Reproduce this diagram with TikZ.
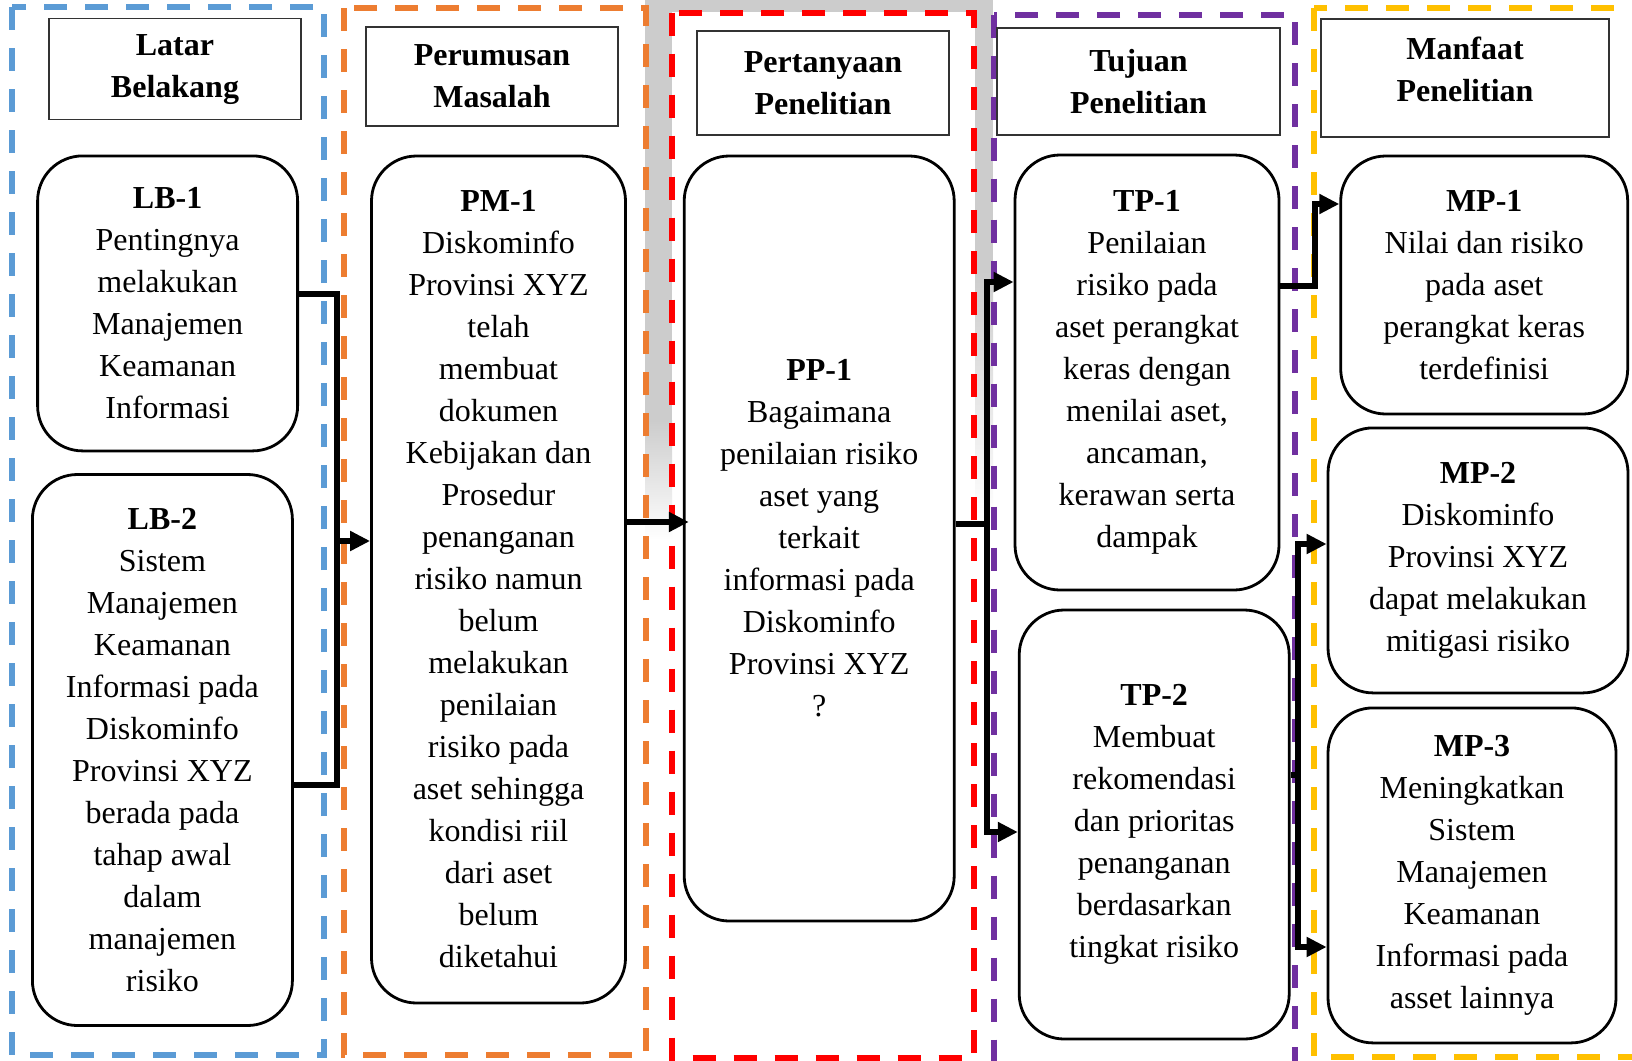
\documentclass[tikz,border=0pt]{standalone}
\usepackage{fontspec}
\setmainfont{Liberation Serif}
\usetikzlibrary{arrows.meta}
\definecolor{cblue}{HTML}{5B9BD5}
\definecolor{corange}{HTML}{ED7D31}
\definecolor{cred}{HTML}{FF0000}
\definecolor{cpurple}{HTML}{7030A0}
\definecolor{cyellow}{HTML}{FFC000}
\begin{document}
\begin{tikzpicture}[x=1pt,y=-1pt,
  frame/.style={line width=6pt, dash pattern=on 23pt off 18pt},
  hdr/.style={draw=black!80, line width=1.5pt, fill=white, font=\fontsize{32}{42}\selectfont\bfseries, align=center, inner sep=0pt},
  hdrtext/.style={font=\fontsize{32}{42}\selectfont\bfseries, align=center, inner sep=0pt},
  card/.style={draw=black, line width=2.8pt, rounded corners=45pt, fill=white, font=\fontsize{32}{42}\selectfont, align=center, inner sep=0pt},
  conn/.style={line width=6pt},
  arr/.style={line width=6pt, -{Triangle[length=20pt,width=19pt]}},
]
\useasboundingbox (0,0) rectangle (1632,1060);
\begin{scope}
\clip (0,0) rectangle (1632,1060);
\fill[white] (0,0) rectangle (1632,1060);
% watermark remnants
\fill[gray!40] (645,0) rectangle (993,12);
\fill[gray!40] (645,0) rectangle (672,420);
\shade[top color=gray!40, bottom color=white] (645,420) rectangle (672,540);
\fill[gray!40] (975,0) rectangle (993,270);
\shade[top color=gray!40, bottom color=white] (975,270) rectangle (993,520);
% dashed frames
\draw[frame, cblue] (12,7) rectangle (324,1055);
\draw[frame, corange] (344,8) rectangle (646,1055);
\draw[frame, cred] (672,12.5) rectangle (974,1058);
\draw[frame, cpurple] (994,14.5) rectangle (1295,1068);
\draw[frame, cyellow] (1314,8) rectangle (1645,1057);
% headers
\node[hdr, minimum width=252pt, minimum height=101pt] (hLB) at (175,69.2) {Latar\\Belakang};
\node[hdr, minimum width=252pt, minimum height=99pt] (hPM) at (492,76.5) {Perumusan\\Masalah};
\node[hdr, minimum width=252pt, minimum height=104pt] (hPP) at (823,83) {Pertanyaan\\Penelitian};
\node[hdr, minimum width=283pt, minimum height=107pt] (hTP) at (1138.5,81.5) {Tujuan\\Penelitian};
\node[hdr, minimum width=288pt, minimum height=118pt] (hMP) at (1465,77.9) {};
\node[hdrtext] (tMP) at (1465,69) {Manfaat\\Penelitian};
% cards
\node[card, minimum width=260pt, minimum height=295pt] (LB1) at (167.6,303.4)
  {\textbf{LB-1}\\Pentingnya\\melakukan\\Manajemen\\Keamanan\\Informasi};
\node[card, minimum width=260pt, minimum height=551pt] (LB2) at (162.4,750)
  {\textbf{LB-2}\\Sistem\\Manajemen\\Keamanan\\Informasi pada\\Diskominfo\\Provinsi XYZ\\berada pada\\tahap awal\\dalam\\manajemen\\risiko};
\node[card, minimum width=254pt, minimum height=847pt] (PM1) at (498.5,579.5)
  {\textbf{PM-1}\\Diskominfo\\Provinsi XYZ\\telah\\membuat\\dokumen\\Kebijakan dan\\Prosedur\\penanganan\\risiko namun\\belum\\melakukan\\penilaian\\risiko pada\\aset sehingga\\kondisi riil\\dari aset\\belum\\diketahui};
\node[card, minimum width=270pt, minimum height=765pt] (PP1) at (819.2,538.5)
  {\textbf{PP-1}\\Bagaimana\\penilaian risiko\\aset yang\\terkait\\informasi pada\\Diskominfo\\Provinsi XYZ\\?};
\node[card, minimum width=264pt, minimum height=435pt] (TP1) at (1147,372.5)
  {\textbf{TP-1}\\Penilaian\\risiko pada\\aset perangkat\\keras dengan\\menilai aset,\\ancaman,\\kerawan serta\\dampak};
\node[card, minimum width=270pt, minimum height=429pt] (TP2) at (1154.2,824.5)
  {\textbf{TP-2}\\Membuat\\rekomendasi\\dan prioritas\\penanganan\\berdasarkan\\tingkat risiko};
\node[card, minimum width=287pt, minimum height=258pt] (MP1) at (1484.2,285)
  {\textbf{MP-1}\\Nilai dan risiko\\pada aset\\perangkat keras\\terdefinisi};
\node[card, minimum width=300pt, minimum height=265pt] (MP2) at (1478,560.4)
  {\textbf{MP-2}\\Diskominfo\\Provinsi XYZ\\dapat melakukan\\mitigasi risiko};
\node[card, minimum width=288pt, minimum height=335pt] (MP3) at (1472,875.4)
  {\textbf{MP-3}\\Meningkatkan\\Sistem\\Manajemen\\Keamanan\\Informasi pada\\asset lainnya};
% connectors
\coordinate (j1) at (337,293.5);
\coordinate (j2) at (337,785);
\coordinate (j3) at (337,541);
\draw[conn] (LB1.east |- j1) -- (j1) -- (j2) -- (LB2.east |- j2);
\draw[arr] (j3) -- (j3 -| PM1.west);
\coordinate (k) at (650,522);
\draw[arr] (k -| PM1.east) -- ([xshift=6pt]k -| PP1.west);
\coordinate (m1) at (987,524);
\coordinate (m2) at (987,282);
\coordinate (m3) at (987,832);
\draw[conn] (m1 -| PP1.east) -- (m1);
\draw[arr] (m1) |- (TP1.west |- m2);
\draw[arr] (m1) |- (TP2.west |- m3);
\coordinate (n1) at (1315,286);
\coordinate (n2) at (1315,204);
\draw[arr] (TP1.east |- n1) -- (n1) |- (MP1.west |- n2);
\coordinate (p0) at (1298,775);
\coordinate (p1) at (1298,544);
\coordinate (p2) at (1298,947);
\draw[conn] (TP2.east |- p0) -- (p0);
\draw[arr] (p0) |- (MP2.west |- p1);
\draw[arr] (p0) |- (MP3.west |- p2);
\end{scope}
\end{tikzpicture}
\end{document}
